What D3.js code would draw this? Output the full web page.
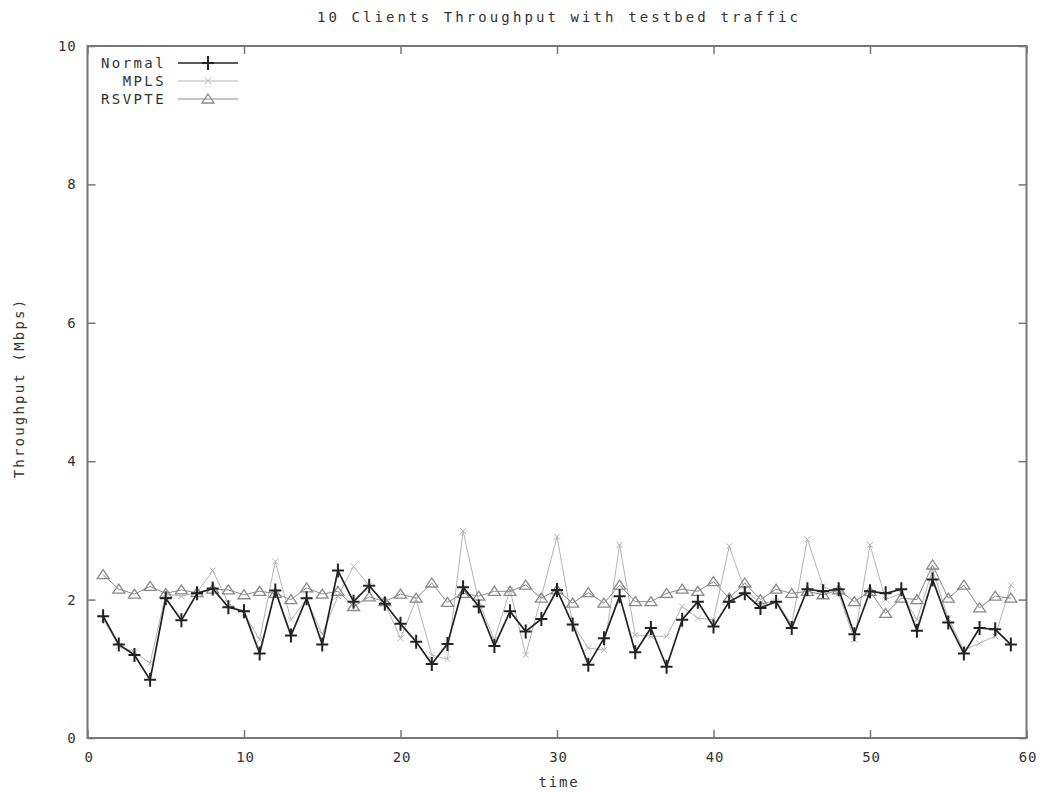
<!DOCTYPE html>
<html>
<head>
<meta charset="utf-8">
<script src="https://cdn.jsdelivr.net/npm/d3@7"></script>
<style>
  html, body { margin: 0; padding: 0; background: #fff; }
  svg text { font-family: "DejaVu Sans Mono", "Liberation Mono", monospace; fill: #333; }
</style>
</head>
<body>
<svg id="chart" width="1052" height="792"></svg>
<script>
// Sample times (seconds)
const times = [1,2,3,4,5,6,7,8,9,10,11,12,13,14,15,16,17,18,19,20,
               21,22,23,24,25,26,27,28,29,30,31,32,33,34,35,36,37,38,39,40,
               41,42,43,44,45,46,47,48,49,50,51,52,53,54,55,56,57,58,59];

// Throughput per client group (Mbps)
const normal = [1.76,1.35,1.20,0.84,2.02,1.70,2.09,2.16,1.89,1.83,
                1.22,2.13,1.48,2.02,1.35,2.42,1.97,2.20,1.94,1.65,
                1.39,1.07,1.36,2.18,1.90,1.33,1.83,1.54,1.72,2.14,
                1.64,1.06,1.44,2.05,1.24,1.59,1.03,1.71,1.97,1.61,
                1.97,2.09,1.88,1.97,1.59,2.15,2.12,2.15,1.50,2.12,
                2.09,2.15,1.55,2.29,1.67,1.22,1.59,1.57,1.35];

const mpls = [1.72,1.33,1.24,1.08,2.08,2.05,2.10,2.42,1.95,1.80,
              1.42,2.55,1.71,2.00,1.50,2.05,2.48,2.20,1.95,1.44,
              2.00,1.20,1.14,2.99,1.97,1.42,2.14,1.20,2.04,2.91,
              1.65,1.30,1.27,2.79,1.49,1.47,1.47,1.90,1.73,1.71,
              2.77,2.14,1.95,1.97,1.64,2.87,2.19,2.09,1.42,2.79,
              2.00,2.09,1.71,2.43,1.73,1.27,1.37,1.47,2.21];

const rsvpte = [2.36,2.15,2.08,2.19,2.09,2.14,2.10,2.15,2.14,2.07,
                2.12,2.09,2.00,2.17,2.08,2.12,1.90,2.04,1.97,2.08,
                2.02,2.24,1.96,2.09,2.05,2.12,2.12,2.21,2.02,2.14,
                1.95,2.10,1.95,2.21,1.97,1.97,2.09,2.15,2.12,2.26,
                2.02,2.24,2.00,2.15,2.09,2.12,2.07,2.14,1.97,2.12,
                1.80,2.02,2.00,2.50,2.02,2.21,1.88,2.05,2.02];

const seriesNames = ["Normal", "MPLS", "RSVPTE"];
const xTicks = [0,10,20,30,40,50,60];
const yTicks = [0,2,4,6,8,10];

const svg = d3.select("#chart");
const plotL = 87.5, plotR = 1026.5, plotT = 46, plotB = 738;

const x = d3.scaleLinear().domain([0, 60]).range([plotL, plotR]);
const y = d3.scaleLinear().domain([0, 10]).range([plotB, plotT]);

const axisColor = "#777";
const font = "DejaVu Sans Mono";

// Axes: inward ticks on all four sides
const gB = svg.append("g").attr("transform", `translate(0,${plotB})`)
  .call(d3.axisBottom(x).tickValues(xTicks).tickSize(-8).tickPadding(14).tickFormat(d3.format("d")));
const gT = svg.append("g").attr("transform", `translate(0,${plotT})`)
  .call(d3.axisTop(x).tickValues(xTicks).tickSize(-8).tickFormat(""));
const gL = svg.append("g").attr("transform", `translate(${plotL},0)`)
  .call(d3.axisLeft(y).tickValues(yTicks).tickSize(-8).tickPadding(11).tickFormat(d3.format("d")));
const gR = svg.append("g").attr("transform", `translate(${plotR},0)`)
  .call(d3.axisRight(y).tickValues(yTicks).tickSize(-8).tickFormat(""));

[gB, gT, gL, gR].forEach(g => {
  g.select(".domain").remove();
  g.selectAll(".tick line").attr("stroke", axisColor).attr("stroke-width", 1.5);
  g.selectAll(".tick text").attr("font-size", 14).attr("letter-spacing", 0.8)
    .attr("font-family", font).attr("fill", "#444");
});
gB.selectAll(".tick text").attr("dx", 1);

// Frame
svg.append("rect")
  .attr("x", plotL).attr("y", plotT)
  .attr("width", plotR - plotL).attr("height", plotB - plotT)
  .attr("fill", "none").attr("stroke", axisColor).attr("stroke-width", 2);

// Titles
svg.append("text").attr("x", (plotL + plotR) / 2 + 2).attr("y", 22)
  .attr("text-anchor", "middle").attr("font-size", 14).attr("letter-spacing", 3.1)
  .text("10 Clients Throughput with testbed traffic");
svg.append("text").attr("x", (plotL + plotR) / 2 + 2).attr("y", 787)
  .attr("text-anchor", "middle").attr("font-size", 14).attr("letter-spacing", 1.8)
  .text("time");
svg.append("text")
  .attr("transform", `translate(24,${(plotT + plotB) / 2 - 4}) rotate(-90)`)
  .attr("text-anchor", "middle").attr("font-size", 14).attr("letter-spacing", 2.2)
  .attr("fill", "#555")
  .text("Throughput (Mbps)");

// Series styles
const styles = {
  Normal: { data: normal, stroke: "#222", width: 1.7, marker: "plus" },
  MPLS:   { data: mpls,   stroke: "#b4b4b4", width: 1, marker: "cross" },
  RSVPTE: { data: rsvpte, stroke: "#8a8a8a", width: 1, marker: "triangle" }
};

function drawMarker(g, type, cx, cy, color) {
  if (type === "plus") {
    g.append("path")
      .attr("d", `M${cx - 6},${cy}H${cx + 6}M${cx},${cy - 7}V${cy + 7}`)
      .attr("stroke", color).attr("stroke-width", 2).attr("fill", "none");
  } else if (type === "cross") {
    g.append("path")
      .attr("d", `M${cx - 3},${cy - 3}L${cx + 3},${cy + 3}M${cx - 3},${cy + 3}L${cx + 3},${cy - 3}`)
      .attr("stroke", color).attr("stroke-width", 1).attr("fill", "none");
  } else {
    g.append("path")
      .attr("d", `M${cx},${cy - 5}L${cx + 6},${cy + 4}L${cx - 6},${cy + 4}Z`)
      .attr("stroke", color).attr("stroke-width", 1.3).attr("fill", "none");
  }
}

const line = d3.line().x((d, i) => x(times[i])).y(d => y(d));

// Draw back to front: MPLS, RSVPTE, Normal
["MPLS", "RSVPTE", "Normal"].forEach(name => {
  const s = styles[name];
  const g = svg.append("g").attr("class", "series-" + name);
  g.append("path").datum(s.data)
    .attr("d", line)
    .attr("fill", "none").attr("stroke", s.stroke).attr("stroke-width", s.width)
    .attr("stroke-linejoin", "round");
  s.data.forEach((v, i) => drawMarker(g, s.marker, x(times[i]), y(v), s.stroke));
});

// Legend
const legend = svg.append("g");
seriesNames.forEach((name, i) => {
  const s = styles[name];
  const ly = 63 + i * 18;
  legend.append("text").attr("x", 166).attr("y", ly + 5)
    .attr("text-anchor", "end").attr("font-size", 14).attr("letter-spacing", 2.4)
    .text(name);
  legend.append("line").attr("x1", 178).attr("x2", 238).attr("y1", ly).attr("y2", ly)
    .attr("stroke", s.stroke).attr("stroke-width", s.width);
  drawMarker(legend, s.marker, 208, ly, s.stroke);
});
</script>
</body>
</html>
